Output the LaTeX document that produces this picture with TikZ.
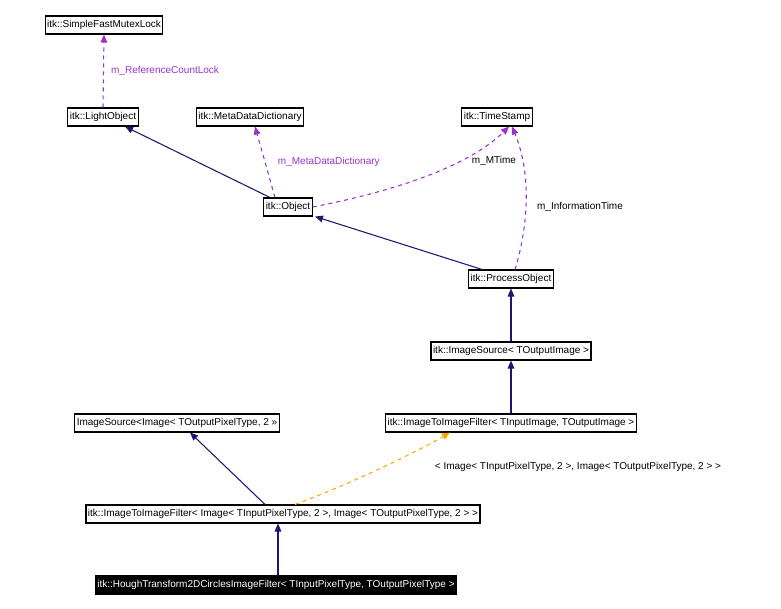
\documentclass[tikz,border=0pt]{standalone}
\usepackage{fontspec}
\setmainfont{Liberation Sans}
\usetikzlibrary{arrows.meta,calc}
\definecolor{edgeblue}{RGB}{25,25,112}
\definecolor{edgepurple}{RGB}{153,50,204}
\definecolor{edgeorange}{RGB}{255,165,0}
\tikzset{
  cls/.style={draw,thick,inner sep=1.5pt,minimum height=13.5pt,font=\fontsize{7.5}{9}\selectfont},
  inherit/.style={edgeblue,thick,-{Triangle[length=6pt,width=5pt]}},
  member/.style={edgepurple,thick,dashed,-{Triangle[length=6pt,width=5pt]}},
  tmpl/.style={edgeorange,thick,dashed,-{Triangle[length=6pt,width=5pt]}},
  lbl/.style={font=\fontsize{7.5}{9}\selectfont}
}
\begin{document}
\begin{tikzpicture}[x=0.75pt,y=-0.75pt]
  \useasboundingbox (0,0) rectangle (781,609);
  \node[cls] (mutex) at (104,25) {itk::SimpleFastMutexLock};
  \node[cls] (light) at (103,117) {itk::LightObject};
  \node[cls] (meta) at (250,117) {itk::MetaDataDictionary};
  \node[cls] (stamp) at (497,117) {itk::TimeStamp};
  \node[cls] (object) at (288,207) {itk::Object};
  \node[cls] (process) at (511,279) {itk::ProcessObject};
  \node[cls] (source) at (511,351) {itk::ImageSource< TOutputImage >};
  \node[cls] (filter) at (511,423) {itk::ImageToImageFilter< TInputImage, TOutputImage >};
  \node[cls] (isrc) at (177,423) {ImageSource<Image< TOutputPixelType, 2 >>};
  \node[cls] (ifilter) at (283,514) {itk::ImageToImageFilter< Image< TInputPixelType, 2 >, Image< TOutputPixelType, 2 > >};
  \node[cls,fill=black,text=white] (hough) at (276,585) {itk::HoughTransform2DCirclesImageFilter< TInputPixelType, TOutputPixelType >};

  \draw[member] (light.north) -- node[lbl,right=2pt]{m\_ReferenceCountLock} (mutex.south);
  \draw[inherit] ($(object.north)+(-18,0)$) -- ($(light.south)+(22,0)$);
  \draw[member] ($(object.north)+(-13,0)$) -- node[lbl,right=6pt]{m\_MetaDataDictionary} ($(meta.south)+(5,0)$);
  \draw[member] (object.east) .. controls (400,190) and (470,165) .. ($(stamp.south)+(12,0)$);
  \node[lbl] (mtime) at (494,161) {m\_MTime};
  \draw[inherit] ($(process.north)+(-29,0)$) -- ($(object.south)+(27,0)$);
  \draw[member] ($(process.north)+(4,0)$) .. controls (530,220) and (530,170) .. ($(stamp.south)+(15,0)$);
  \node[lbl] (itime) at (580,207) {m\_InformationTime};
  \draw[inherit] (source) -- (process);
  \draw[inherit] (filter) -- (source);
  \draw[inherit] ($(ifilter.north)+(-18,0)$) -- ($(isrc.south)+(13,0)$);
  \draw[tmpl] ($(ifilter.north)+(12,0)$) .. controls (360,480) and (420,450) .. ($(filter.south)+(-61,0)$);
  \node[lbl] (tlabel) at (578,467) {< Image< TInputPixelType, 2 >, Image< TOutputPixelType, 2 > >};
  \coordinate (h1) at ($(hough.north)+(2,0)$);
  \draw[inherit] (h1) -- (h1 |- ifilter.south);
\end{tikzpicture}
\end{document}
